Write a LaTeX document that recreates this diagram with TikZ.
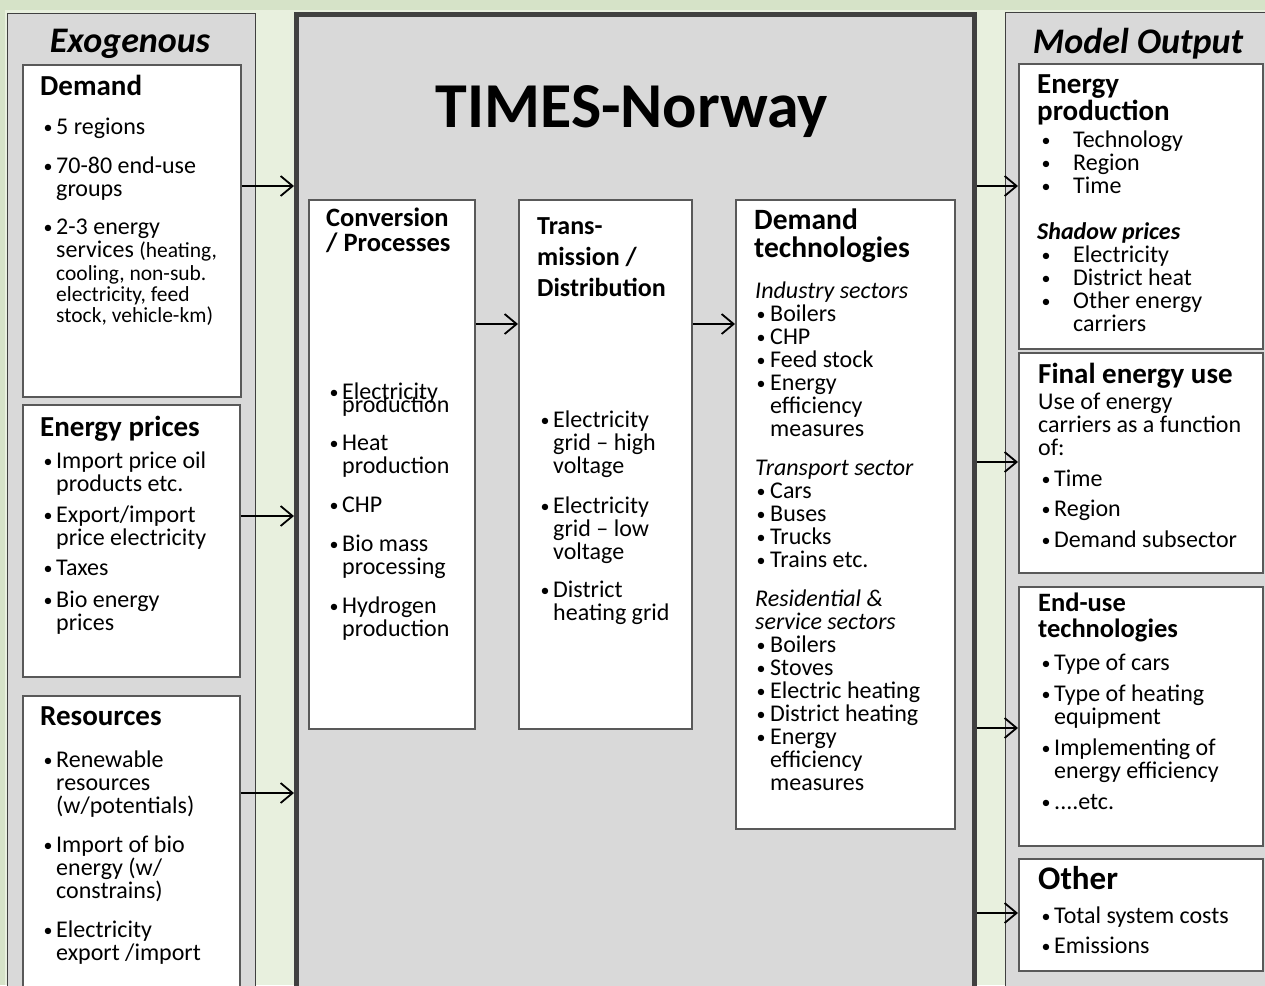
\documentclass[tikz,border=0pt]{standalone}
\usepackage{fontspec}
\setmainfont{Carlito}
\usetikzlibrary{arrows.meta}

\definecolor{bggreen}{HTML}{D6E3C8}
\definecolor{lightgreen}{HTML}{E8F0DE}
\definecolor{panelgray}{HTML}{D9D9D9}
\definecolor{boxline}{HTML}{595959}
\definecolor{frame}{HTML}{404040}

\newcommand{\bitem}[1][14pt]{\makebox[#1][l]{\hspace{1.5pt}\raisebox{1.5pt}{\fontsize{18}{18}\selectfont\textbullet}}\ignorespaces}
\newcommand{\bind}[1][14pt]{\hspace*{#1}\ignorespaces}

\tikzset{
  panel/.style={draw=frame, line width=1pt, fill=panelgray, anchor=north west, inner sep=0pt},
  wbox/.style={draw=boxline, line width=1.5pt, fill=white, anchor=north west, inner sep=0pt},
  txt/.style={anchor=north west, inner sep=0pt, align=left, font=\fontsize{24}{23}\selectfont},
  hd/.style={txt, font=\bfseries\fontsize{29}{28}\selectfont},
  arr/.style={line width=1.8pt, -{Straight Barb[length=12pt,width=20pt]}},
}

\begin{document}
\begin{tikzpicture}[x=1pt,y=-1pt]
  \useasboundingbox (0,0) rectangle (1265,985);
  \clip (0,0) rectangle (1265,985);
  \fill[bggreen] (0,0) rectangle (1265,985);
  \fill[lightgreen] (5,10) rectangle (1265,985);

  % three columns
  \node[panel, minimum width=248pt, minimum height=990pt] (exo) at (7,13) {};
  \node[panel, line width=5pt, minimum width=678pt, minimum height=990pt] (times) at (294,12) {};
  \node[panel, minimum width=270pt, minimum height=990pt] (outp) at (1005,12) {};

  \node[font=\bfseries\itshape\fontsize{36}{38}\selectfont] (exohd) at (130,44) {Exogenous};
  \node[font=\bfseries\itshape\fontsize{36}{38}\selectfont] (outhd) at (1138,44) {Model Output};
  \node[font=\bfseries\fontsize{64}{70}\selectfont] (title) at (632,112) {TIMES-Norway};

  % exogenous inputs
  \node[wbox, minimum width=218pt, minimum height=332pt] (demand) at (22,64) {};
  \node[wbox, minimum width=217pt, minimum height=272pt] (prices) at (22,404) {};
  \node[wbox, minimum width=217pt, minimum height=300pt] (resources) at (22,695) {};

  \node[hd] (demandhd) at (40,75) {Demand};
  \node[txt] (demandlst) at (42,118) {\bitem 5 regions\\[16pt]
    \bitem 70-80 end-use\\ \bind groups\\[15pt]
    \bitem 2-3 energy\\ \bind services {\fontsize{21.5}{21}\selectfont(heating,}};
  \node[txt, font=\fontsize{21.5}{21}\selectfont] (demandsub) at (56,265)
    {cooling, non-sub.\\electricity, feed\\stock, vehicle-km)};

  \node[hd] (priceshd) at (40,416) {Energy prices};
  \node[txt] (priceslst) at (42,452) {\bitem Import price oil\\ \bind products etc.\\[8pt]
    \bitem Export/import\\ \bind price electricity\\[7pt]
    \bitem Taxes\\[9pt]
    \bitem Bio energy\\ \bind prices};

  \node[hd] (resourceshd) at (40,706) {Resources};
  \node[txt] (resourceslst) at (42,751) {\bitem Renewable\\ \bind resources\\ \bind (w/potentials)\\[16pt]
    \bitem Import of bio\\ \bind energy (w/\\ \bind constrains)\\[16pt]
    \bitem Electricity\\ \bind export /import};

  % model chain
  \node[wbox, minimum width=166pt, minimum height=529pt] (conv) at (308,199) {};
  \node[wbox, minimum width=173pt, minimum height=529pt] (trans) at (518,199) {};
  \node[wbox, minimum width=219pt, minimum height=629pt] (dtech) at (735,199) {};

  \node[hd, font=\bfseries\fontsize{26.5}{25}\selectfont] (convhd) at (326,208) {Conversion\\/ Processes};
  \node[txt] (convlst) at (328,383) {\bitem Electricity\\[-10pt] \bind production\\[15pt]
    \bitem Heat\\ \bind production\\[16pt]
    \bitem CHP\\[16pt]
    \bitem Bio mass\\ \bind processing\\[16pt]
    \bitem Hydrogen\\ \bind production};

  \node[hd, font=\bfseries\fontsize{26}{31}\selectfont] (transhd) at (537,217) {Trans-\\mission /\\Distribution};
  \node[txt] (translst) at (539,411) {\bitem Electricity\\ \bind grid -- high\\ \bind voltage\\[17pt]
    \bitem Electricity\\ \bind grid -- low\\ \bind voltage\\[15pt]
    \bitem District\\ \bind heating grid};

  \node[hd, font=\bfseries\fontsize{29.5}{28}\selectfont] (dtechhd) at (754,209) {Demand\\technologies};
  \node[txt] (dtechlst) at (755,282) {\textit{Industry sectors}\\
    \bitem[15pt] Boilers\\ \bitem[15pt] CHP\\ \bitem[15pt] Feed stock\\
    \bitem[15pt] Energy\\ \bind[15pt] efficiency\\ \bind[15pt] measures\\[16pt]
    \textit{Transport sector}\\
    \bitem[15pt] Cars\\ \bitem[15pt] Buses\\ \bitem[15pt] Trucks\\ \bitem[15pt] Trains etc.\\[16pt]
    \textit{Residential \&}\\ \textit{service sectors}\\
    \bitem[15pt] Boilers\\ \bitem[15pt] Stoves\\ \bitem[15pt] Electric heating\\ \bitem[15pt] District heating\\
    \bitem[15pt] Energy\\ \bind[15pt] efficiency\\ \bind[15pt] measures};

  % model output
  \node[wbox, minimum width=244pt, minimum height=285pt] (prod) at (1018,63) {};
  \node[wbox, minimum width=244pt, minimum height=220pt] (final) at (1018,352) {};
  \node[wbox, minimum width=244pt, minimum height=259pt] (enduse) at (1018,586) {};
  \node[wbox, minimum width=244pt, minimum height=112pt] (other) at (1018,858) {};

  \node[hd, font=\bfseries\fontsize{29}{27}\selectfont] (prodhd) at (1037,74) {Energy\\production};
  \node[txt] (prodlst) at (1040,131) {\bitem[33pt] Technology\\ \bitem[33pt] Region\\ \bitem[33pt] Time\\[23pt]
    \hspace*{-3pt}\textbf{\textit{Shadow prices}}\\
    \bitem[33pt] Electricity\\ \bitem[33pt] District heat\\ \bitem[33pt] Other energy\\ \bind[33pt] carriers};

  \node[hd] (finalhd) at (1038,363) {Final energy use};
  \node[txt] (finaltxt) at (1038,393) {Use of energy\\carriers as a function\\of:};
  \node[txt] (finallst) at (1040,470) {\bitem Time\\[7pt] \bitem Region\\[8pt] \bitem Demand subsector};

  \node[hd, font=\bfseries\fontsize{26.5}{26}\selectfont] (endusehd) at (1038,593) {End-use\\technologies};
  \node[txt] (enduselst) at (1040,654) {\bitem Type of cars\\[8pt]
    \bitem Type of heating\\ \bind equipment\\[8pt]
    \bitem Implementing of\\ \bind energy efficiency\\[8pt]
    \bitem ....etc.};

  \node[hd, font=\bfseries\fontsize{33}{30}\selectfont] (otherhd) at (1038,866) {Other};
  \node[txt] (otherlst) at (1040,907) {\bitem Total system costs\\[7pt] \bitem Emissions};

  % arrows
  \coordinate (y1) at (0,186);
  \coordinate (y2) at (0,516);
  \coordinate (y3) at (0,793);
  \coordinate (y4) at (0,324);
  \coordinate (y5) at (0,462);
  \coordinate (y6) at (0,728);
  \coordinate (y7) at (0,913);
  \draw[arr] (demand.east |- y1) -- (times.west |- y1);
  \draw[arr] (prices.east |- y2) -- (times.west |- y2);
  \draw[arr] (resources.east |- y3) -- (times.west |- y3);
  \draw[arr] (conv.east |- y4) -- (trans.west |- y4);
  \draw[arr] (trans.east |- y4) -- (dtech.west |- y4);
  \draw[arr] (times.east |- y1) -- (prod.west |- y1);
  \draw[arr] (times.east |- y5) -- (final.west |- y5);
  \draw[arr] (times.east |- y6) -- (enduse.west |- y6);
  \draw[arr] (times.east |- y7) -- (other.west |- y7);
\end{tikzpicture}
\end{document}
